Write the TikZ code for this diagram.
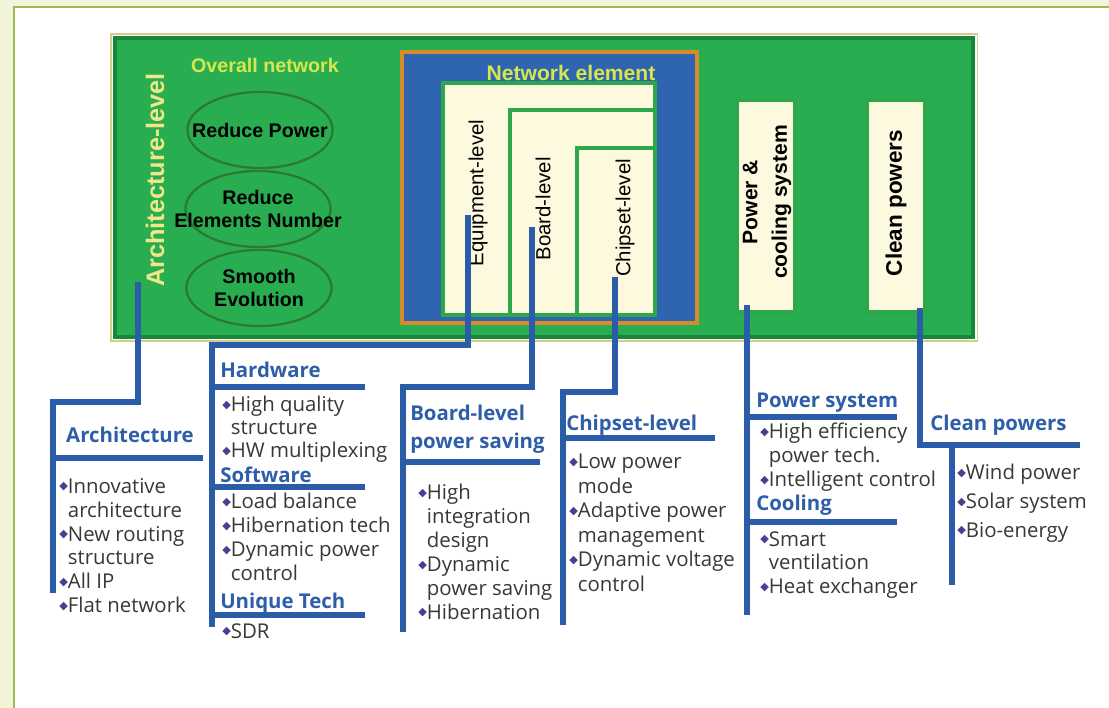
\documentclass[tikz,border=0pt]{standalone}
\usepackage{fontspec}
\setmainfont{Open Sans}
\newfontfamily\boxfont{Liberation Sans}
\newfontfamily\symfont{DejaVu Sans}
\usetikzlibrary{positioning,fit,shapes.geometric}

\definecolor{bandc}{HTML}{F1F4D8}
\definecolor{framec}{HTML}{9BBB59}
\definecolor{leafc}{HTML}{28AE50}
\definecolor{leafdark}{HTML}{17873A}
\definecolor{rimc}{HTML}{D3CC8C}
\definecolor{ovalc}{HTML}{2C7A30}
\definecolor{orangec}{HTML}{D98A2B}
\definecolor{elemc}{HTML}{2F64B1}
\definecolor{creamc}{HTML}{FCF9DE}
\definecolor{boxline}{HTML}{2EA64A}
\definecolor{linkc}{HTML}{2B5CA8}
\definecolor{headc}{HTML}{2E5EA9}
\definecolor{bulletc}{HTML}{4A3E90}
\definecolor{itemc}{HTML}{383838}
\definecolor{archc}{HTML}{F0E68A}
\definecolor{titlec}{HTML}{D6E64C}

\newcommand\bul{\raisebox{0.32ex}{\symfont\fontsize{8}{8}\selectfont\textcolor{bulletc}{◆}}}
\newcommand\ind{\phantom{\bul}}

\tikzset{
  greenbox/.style={fill=leafc, draw=leafdark, line width=2.2pt, inner sep=0pt},
  elembox/.style={fill=elemc, draw=orangec, line width=2.6pt, inner sep=0pt},
  levelbox/.style={fill=creamc, draw=boxline, line width=2.2pt, inner sep=0pt},
  oval/.style={ellipse, draw=ovalc, line width=1.6pt, fill=leafc, minimum width=3.63cm, minimum height=1.9cm, inner sep=0pt},
  ovaltext/.style={align=center, font=\boxfont\bfseries\fontsize{14}{17}\selectfont, inner sep=0pt},
  levellbl/.style={rotate=90, font=\boxfont\fontsize{14.5}{16}\selectfont, inner sep=0pt},
  boxlbl/.style={rotate=90, align=center, font=\boxfont\bfseries\fontsize{15}{21}\selectfont, inner sep=0pt},
  title/.style={text=titlec, font=\boxfont\bfseries\fontsize{14}{16}\selectfont, inner sep=0pt},
  link/.style={draw=linkc, line width=3.6pt},
  head/.style={text=headc, font=\bfseries\fontsize{14.5}{20}\selectfont, inner sep=0pt, align=left, anchor=west},
  items/.style={text=itemc, font=\fontsize{14.5}{17}\selectfont, inner sep=0pt, align=left, anchor=north west}
}

\begin{document}
\begin{tikzpicture}[x=0.025cm, y=-0.025cm]
\useasboundingbox (0,0) rectangle (1109,708);
\fill[bandc] (0,0) rectangle (1109,708);
\fill[white] (14,7) rectangle (1109,708);
\draw[framec, line width=1.2pt] (14,708) -- (14,7) -- (1109,7);

% upper block
\node[greenbox, fit={(115,38) (973,337)}] (overall) {};
\draw[rimc, line width=0.8pt] ([shift={(-2.5,-2.5)}]overall.north west) rectangle ([shift={(2.5,2.5)}]overall.south east);
\node[rotate=90, text=archc, font=\boxfont\bfseries\fontsize{18}{18}\selectfont, inner sep=0pt] (archlbl) at (155,180) {Architecture-level};
\node[title] (overtitle) at (265,65) {Overall network};
\node[oval, label={[ovaltext]center:Reduce Power}] (ovpow) at (260,130) {};
\node[oval, label={[ovaltext]center:Reduce\\Elements Number}] (ovnum) at (258,209) {};
\node[oval, label={[ovaltext]center:Smooth\\Evolution}] (ovevo) at (259,288) {};

\node[elembox, fit={(402,52) (697,323)}] (element) {};
\node[title, font=\boxfont\bfseries\fontsize{15}{16}\selectfont] (elemtitle) at (571,73) {Network element};
\node[levelbox, fit={(443,83) (655,315)}] (equip) {};
\node[levelbox, fit={(510,110) (655,315)}] (board) {};
\node[levelbox, fit={(577,148) (655,315)}] (chip) {};
\node[levellbl] (equiplbl) at (478,193) {Equipment-level};
\node[levellbl] (boardlbl) at (543,209) {Board-level};
\node[levellbl] (chiplbl) at (625,218) {Chipset-level};

\node[levelbox, fit={(737,100) (795,312)}] (pwrbox) {};
\node[boxlbl] (pwrlbl) at (767,202) {Power \&\\cooling system};
\node[levelbox, fit={(867,100) (925,312)}] (cleanbox) {};
\node[boxlbl, font=\boxfont\bfseries\fontsize{16}{18}\selectfont] (cleanlbl) at (896,203) {Clean powers};

% taps and bars
\coordinate (archtap) at (138,282);
\coordinate (archtop) at (53,402);
\coordinate (archend) at (53,593);
\coordinate (equiptap) at (468,215);
\coordinate (hwtop) at (212,345);
\coordinate (hwend) at (212,627);
\coordinate (boardtap) at (532,227);
\coordinate (bdtop) at (403,387);
\coordinate (bdend) at (403,632);
\coordinate (chiptap) at (615,277);
\coordinate (chtop) at (563,392);
\coordinate (chend) at (563,625);
\coordinate (pwrtap) at (747,305);
\coordinate (pwrend) at (747,615);
\coordinate (cleantap) at (920,308);
\coordinate (cleanright) at (1080,445);
\coordinate (cptop) at (952,445);
\coordinate (cpend) at (952,585);

\draw[link] (archtap) |- (archtop) -- (archend);
\draw[link] (equiptap) |- (hwtop) -- (hwend);
\draw[link] (boardtap) |- (bdtop) -- (bdend);
\draw[link] (chiptap) |- (chtop) -- (chend);
\draw[link] (pwrtap) -- (pwrend);
\draw[link] (cleantap) |- (cleanright);
\draw[link] (cptop) -- (cpend);

% rules under the headings
\draw[link] (53,458) -- (203,458);
\draw[link] (212,387) -- (365,387);
\draw[link] (212,487) -- (365,487);
\draw[link] (212,615) -- (365,615);
\draw[link] (403,462) -- (540,462);
\draw[link] (563,438) -- (715,438);
\draw[link] (747,417) -- (897,417);
\draw[link] (747,522) -- (897,522);

% lists
\node[head, anchor=center] (archhead) at (130,435) {Architecture};
\node[items] (archlist) at (59,478) {\bul Innovative\\\ind architecture\\\bul New routing\\\ind structure\\\bul All IP\\\bul Flat network};

\node[head] (hwhead) at (220,370) {Hardware};
\node[items, font=\fontsize{14.5}{16.4}\selectfont] (hwlist) at (222,396) {\bul High quality\\\ind structure\\\bul HW multiplexing};
\node[head] (swhead) at (220,475) {Software};
\node[items] (swlist) at (222,493) {\bul Load balance\\\bul Hibernation tech\\\bul Dynamic power\\\ind control};
\node[head] (uthead) at (220,603) {Unique Tech};
\node[items] (utlist) at (222,623) {\bul SDR};

\node[head] (bdhead) at (410,429) {Board-level\\power saving};
\node[items] (bdlist) at (418,484) {\bul High\\\ind integration\\\ind design\\\bul Dynamic\\\ind power saving\\\bul Hibernation};

\node[head] (chhead) at (566,425) {Chipset-level};
\node[items, font=\fontsize{14.5}{17.4}\selectfont] (chlist) at (569,454) {\bul Low power\\\ind mode\\\bul Adaptive power\\\ind management\\\bul Dynamic voltage\\\ind control};

\node[head] (pshead) at (756,403) {Power system};
\node[items] (pslist) at (760,423) {\bul High efficiency\\\ind power tech.\\\bul Intelligent control};
\node[head] (clhead) at (756,505) {Cooling};
\node[items] (cllist) at (760,531) {\bul Smart\\\ind ventilation\\\bul Heat exchanger};

\node[head] (cphead) at (930,425) {Clean powers};
\node[items, font=\fontsize{14.5}{20.5}\selectfont] (cplist) at (957,464) {\bul Wind power\\\bul Solar system\\\bul Bio-energy};
\end{tikzpicture}
\end{document}
